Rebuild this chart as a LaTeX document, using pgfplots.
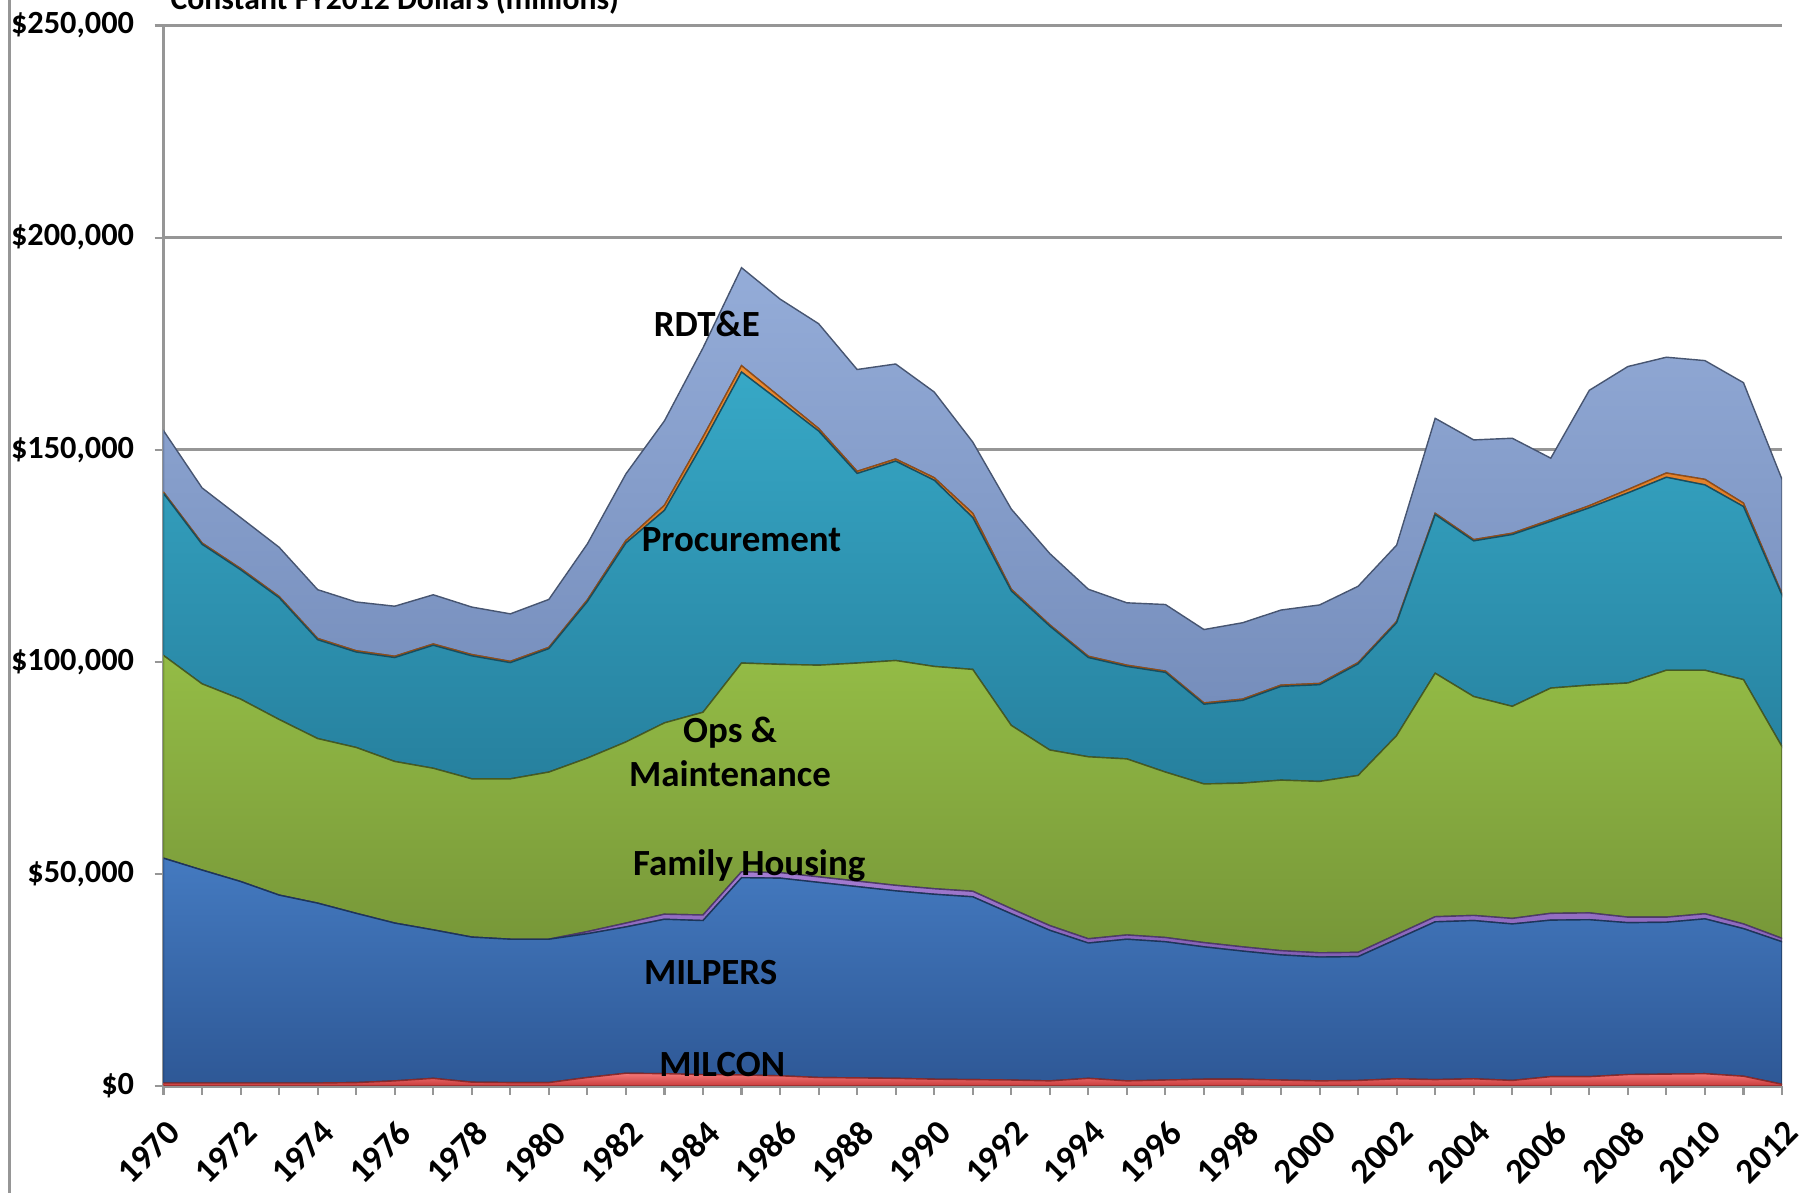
\documentclass[border=0pt]{standalone}
\usepackage{fontspec}
\setmainfont{Carlito}
\usepackage{pgfplots}
\pgfplotsset{compat=1.18}
\usepackage{pgfplotstable}

\definecolor{milconT}{RGB}{245,120,120}
\definecolor{milconB}{RGB}{200,60,60}
\definecolor{milpersT}{RGB}{68,122,192}
\definecolor{milpersB}{RGB}{46,88,150}
\definecolor{fhT}{RGB}{170,130,215}
\definecolor{fhB}{RGB}{130,95,180}
\definecolor{omT}{RGB}{148,188,70}
\definecolor{omB}{RGB}{118,150,56}
\definecolor{procT}{RGB}{55,168,198}
\definecolor{procB}{RGB}{38,128,158}
\definecolor{revT}{RGB}{235,140,50}
\definecolor{revB}{RGB}{210,110,30}
\definecolor{rdteT}{RGB}{148,172,216}
\definecolor{rdteB}{RGB}{118,142,188}
\definecolor{gridgray}{RGB}{150,150,150}

\pgfplotstableread{
year milcon milpers fh om proc rev rdte
1970 700 53000 0 47800 38200 300 14500
1971 700 50200 0 43900 32900 300 13000
1972 700 47500 0 43000 30500 300 12000
1973 700 44300 0 41400 28700 300 11600
1974 700 42400 0 38800 23300 300 11500
1975 800 39900 0 39100 22500 300 11500
1976 1200 37200 0 38100 24500 300 11800
1977 1800 35000 0 38100 29000 300 11600
1978 900 34200 0 37300 29000 300 11200
1979 800 33800 0 37800 27400 300 11200
1980 800 33800 0 39400 29100 300 11300
1981 2000 33900 500 40900 36900 400 13200
1982 3000 34500 900 42700 46900 600 15700
1983 2900 36400 1200 45100 50100 1200 19900
1984 2700 36300 1300 47800 63400 1500 21000
1985 2600 46500 1400 49200 68600 1500 23100
1986 2400 46600 1300 49100 62000 1000 23100
1987 2000 46000 1300 49900 55200 600 24700
1988 1900 45100 1300 51400 44700 500 24000
1989 1800 44200 1300 53000 47000 500 22400
1990 1600 43600 1300 52400 43900 600 20200
1991 1500 43100 1300 52300 35800 1000 16800
1992 1400 39200 1200 43200 31700 400 18900
1993 1200 35500 1100 41400 29200 300 16800
1994 1800 31900 1000 42900 23400 300 15800
1995 1200 33400 1000 41500 21800 300 14700
1996 1400 32600 1000 39000 23500 300 15700
1997 1600 31200 1000 37400 18800 300 17300
1998 1600 30200 1000 38600 19500 300 18000
1999 1400 29500 1000 40200 22100 300 17700
2000 1200 29200 1000 40400 22800 300 18500
2001 1300 29200 1000 41700 26300 300 18000
2002 1700 32900 1100 46900 26600 300 18000
2003 1500 37200 1200 57400 37400 300 22400
2004 1700 37300 1200 51600 36700 300 23500
2005 1300 36900 1300 50000 40500 300 22400
2006 2200 36900 1600 53100 39300 400 14500
2007 2200 37000 1600 53700 41800 500 27200
2008 2700 35800 1300 55200 44800 800 29000
2009 2800 35800 1200 58200 45500 1000 27300
2010 2900 36500 1200 57400 43700 1300 28000
2011 2300 34800 1100 57600 40800 800 28400
2012 400 33600 800 45200 35700 300 27000
}\budget

\begin{document}
\begin{tikzpicture}[x=1cm,y=1cm]
\begin{axis}[
  at={(1.635cm,1.07cm)}, anchor=south west,
  scale only axis, width=16.185cm, height=10.605cm,
  xmin=1970, xmax=2012, ymin=0, ymax=250000,
  stack plots=y,
  axis x line*=bottom, axis y line*=left,
  axis line style={gridgray, line width=0.9pt},
  ymajorgrids, grid style={gridgray, line width=0.9pt},
  xtick={1970,1972,...,2012},
  minor xtick={1971,1973,...,2011},
  ytick={0,50000,100000,150000,200000,250000},
  yticklabels={{\$0},{\$50,000},{\$100,000},{\$150,000},{\$200,000},{\$250,000}},
  tick align=outside,
  major tick length=0.09cm, minor tick length=0.09cm,
  tick style={gridgray, line width=0.6pt},
  /pgf/number format/assume math mode=true,
  x tick label style={/pgf/number format/1000 sep={}, rotate=45, anchor=east,
     font=\bfseries\fontsize{10}{11}\selectfont, xshift=-0.03cm, yshift=-0.3cm},
  y tick label style={font=\bfseries\fontsize{9.2}{10}\selectfont, xshift=-0.08cm},
]
\addplot[top color=milconT, bottom color=milconB, draw=milconB!70!black, line width=0.4pt] table[x=year,y=milcon]{\budget} \closedcycle;
\addplot[top color=milpersT, bottom color=milpersB, draw=milpersB!60!black, line width=0.4pt] table[x=year,y=milpers]{\budget} \closedcycle;
\addplot[top color=fhT, bottom color=fhB, draw=fhB!60!black, line width=0.4pt] table[x=year,y=fh]{\budget} \closedcycle;
\addplot[top color=omT, bottom color=omB, draw=omB!60!black, line width=0.4pt] table[x=year,y=om]{\budget} \closedcycle;
\addplot[top color=procT, bottom color=procB, draw=procB!60!black, line width=0.4pt] table[x=year,y=proc]{\budget} \closedcycle;
\addplot[top color=revT, bottom color=revB, draw=revB!70!black, line width=0.4pt] table[x=year,y=rev]{\budget} \closedcycle;
\addplot[top color=rdteT, bottom color=rdteB, draw=rdteB!60!black, line width=0.4pt] table[x=year,y=rdte]{\budget} \closedcycle;

\coordinate (lRDTE) at (axis cs:1984.1,179700);
\coordinate (lPROC) at (axis cs:1985.0,128900);
\coordinate (lOM) at (axis cs:1984.7,78800);
\coordinate (lFH) at (axis cs:1985.2,51900);
\coordinate (lMILPERS) at (axis cs:1984.2,26700);
\coordinate (lMILCON) at (axis cs:1984.5,5100);
\end{axis}
\begin{scope}[every node/.style={font=\bfseries\fontsize{10.5}{12.5}\selectfont}]
\node at (lRDTE) {RDT\&E};
\node at (lPROC) {Procurement};
\node[align=center] at (lOM) {Ops \&\\Maintenance};
\node at (lFH) {Family Housing};
\node at (lMILPERS) {MILPERS};
\node at (lMILCON) {MILCON};
\end{scope}
\node[anchor=base west, inner sep=0pt, font=\bfseries\fontsize{9}{10}\selectfont] at (1.70,11.83) {Constant FY2012 Dollars (millions)};
\draw[gridgray, line width=0.8pt] (0.093,0) -- (0.093,11.93);
\pgfresetboundingbox
\path[use as bounding box] (0,0) rectangle (18.18,11.93);
\end{tikzpicture}
\end{document}
